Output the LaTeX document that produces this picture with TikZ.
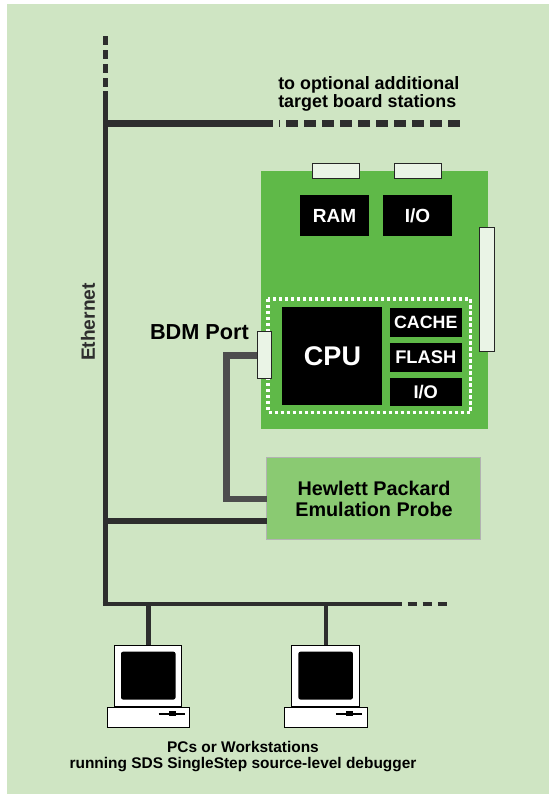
\documentclass[tikz,border=0pt]{standalone}
\usepackage{fontspec}
\setmainfont{Liberation Sans}[BoldFont={* Bold}]
\newcommand{\fpx}[1]{\pgfmathsetmacro{\fsz}{#1*0.75}\fontsize{\fsz pt}{\fsz pt}\selectfont}
\definecolor{bgc}{HTML}{CFE5C3}
\definecolor{boardc}{HTML}{5FB948}
\definecolor{probec}{HTML}{8ACA72}
\definecolor{linec}{HTML}{2E2E2E}
\definecolor{grayl}{HTML}{4D4D4D}
\definecolor{portc}{HTML}{EAF4E6}
\newcommand{\boxnode}[7][]{%
  \pgfmathsetmacro{\bcx}{(#3+#5)/2}\pgfmathsetmacro{\bcy}{(#4+#6)/2}%
  \pgfmathsetmacro{\bwd}{(#5-#3)*0.75}\pgfmathsetmacro{\bht}{(#6-#4)*0.75}%
  \node[inner sep=0pt,outer sep=0pt,minimum width=\bwd pt,minimum height=\bht pt,#1] (#2) at (\bcx,\bcy) {#7};}
\tikzset{
  bus/.style={draw=linec,line width=3.6pt},
  busthin/.style={draw=linec,line width=3.75pt},
  port/.style={draw=black!85,fill=portc,line width=0.75pt},
  chip/.style={fill=black,text=white},
  label/.style={inner sep=0pt,align=center,text=black},
  monitor/.style={draw=black,fill=white,line width=0.75pt},
}
\begin{document}
\begin{tikzpicture}[x=0.75pt,y=-0.75pt]
\useasboundingbox (0,0) rectangle (549,794);
\fill[bgc] (7,4) rectangle (549,794);
% ethernet coordinates
\coordinate (ethtopdash) at (105,36);
\coordinate (ethtop) at (105,91);
\coordinate (ethjoinA) at (105,123.5);
\coordinate (ethjoinB) at (105,521);
\coordinate (ethbot) at (105,604);
\coordinate (staEnd) at (273,123.5);
\coordinate (staTick) at (279,123.5);
\coordinate (staTickE) at (280,123.5);
\coordinate (staDash) at (286,123.5);
\coordinate (staDashE) at (460,123.5);
\coordinate (pcEnd) at (401.5,604);
\coordinate (pcDash) at (407.5,604);
\coordinate (pcDashE) at (446.5,604);
% board
\boxnode[fill=boardc]{board}{261}{171}{488}{429}{}
\boxnode[port]{portA}{312.5}{163.5}{359.5}{178}{}
\boxnode[port]{portB}{394.5}{163.5}{441.5}{178}{}
\boxnode[port]{portC}{479.5}{227}{494.5}{351}{}
\boxnode[chip,font=\bfseries\fpx{19}]{ram}{300}{195}{369}{236}{RAM}
\boxnode[chip,font=\bfseries\fpx{19}]{ioA}{383}{195}{452}{236}{I/O}
\draw[white,line width=2.6pt,dash pattern=on 2.4pt off 2.1pt] (268,299) rectangle (470.5,412.5);
\boxnode[chip,font=\bfseries\fpx{27}]{cpu}{283}{306.5}{382}{405}{CPU}
\fill[black] (281.5,306.5) rectangle (283.5,405);
\boxnode[chip,font=\bfseries\fpx{17.8}]{cache}{389.5}{308}{462}{336.5}{CACHE}
\boxnode[chip,font=\bfseries\fpx{18.3}]{flash}{389.5}{343}{462}{371.5}{FLASH}
\boxnode[chip,font=\bfseries\fpx{18.3}]{ioB}{389.5}{378}{462}{406}{I/O}
% probe
\boxnode[fill=probec,draw=black!30,line width=0.75pt]{probe}{266.5}{457}{480.5}{539}{}
\node[label,font=\bfseries\fpx{19.8}] (probelabel) at (374,499) {Hewlett Packard\\[0.5pt]Emulation Probe};
% probe-to-port line
\coordinate (bdmL) at (258,355.5);
\coordinate (probeL) at (266.5,499);
\draw[grayl,line width=4.9pt] (bdmL) -- (226.5,355.5) -- (226.5,499) -- (probeL);
\boxnode[port]{portD}{257.5}{331}{271.5}{378}{}
% ethernet
\draw[busthin,dash pattern=on 6.9pt off 3.7pt] (ethtopdash) -- (105,87);
\draw[busthin] (ethtop) -- (ethbot);
\draw[bus,line width=4.6pt] (ethjoinA) -- (staEnd);
\draw[bus,line width=4.6pt] (staTick) -- (staTickE);
\draw[bus,line width=4.6pt,dash pattern=on 9pt off 4.5pt] (staDash) -- (staDashE);
\draw[bus,line width=4.6pt] (ethjoinB) -- (probe.west |- ethjoinB);
\draw[bus,line width=3.4pt] (102.5,604) -- (pcEnd);
\draw[bus,line width=3.4pt,dash pattern=on 7.2pt off 4.2pt] (pcDash) -- (pcDashE);
% PCs
\foreach \nm/\dx in {A/0,B/177.4}{
  \begin{scope}[xshift=\dx*0.75pt]
    \boxnode[monitor]{mon\nm}{114}{645}{181.7}{706.5}{}
    \boxnode[monitor]{base\nm}{107.5}{707.3}{189.7}{727.3}{}
    \fill[black,rounded corners=1.5pt] (121,651.7) rectangle (175.5,699.5);
    \draw[black,line width=1.5pt] (158.5,713.5) -- (185,713.5);
    \fill[black] (169,711) rectangle (176,716);
    \coordinate (drop\nm) at (148.4,604);
    \draw[bus,line width=3.4pt] (drop\nm) -- (mon\nm.north -| drop\nm);
  \end{scope}
}
% texts
\node[label,anchor=north west,align=left,font=\bfseries\fpx{17.9}] (optional) at (278,76.5) {to optional additional\\[0pt]target board stations};
\node[label,font=\bfseries\fpx{21.7}] (bdm) at (199.5,332) {BDM Port};
\node[label,rotate=90,text=linec,font=\bfseries\fpx{19.2}] (eth) at (88,322) {Ethernet};
\node[label,font=\bfseries\fpx{15.45}] (pcs) at (243,756.5) {PCs or Workstations\\[0.4pt]running SDS SingleStep source-level debugger};
\end{tikzpicture}
\end{document}
